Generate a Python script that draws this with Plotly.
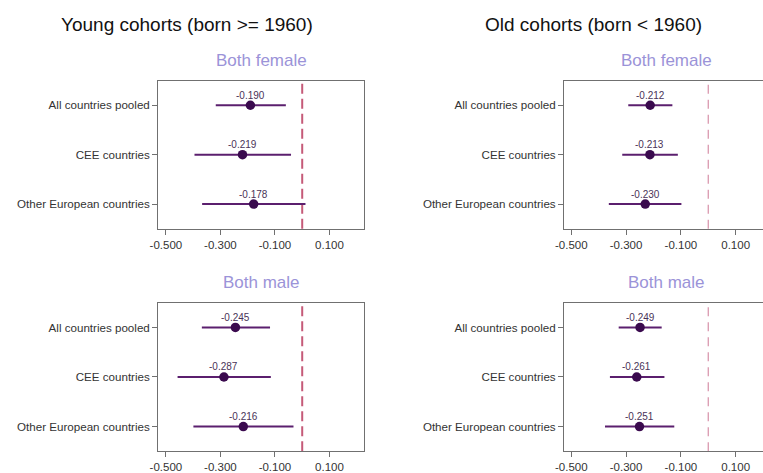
import plotly.graph_objects as go

categories = ["All countries pooled", "CEE countries", "Other European countries"]

young_female_est = [-0.190, -0.219, -0.178]
young_female_lo = [-0.317, -0.395, -0.367]
young_female_hi = [-0.060, -0.041, 0.012]

young_male_est = [-0.245, -0.287, -0.216]
young_male_lo = [-0.368, -0.457, -0.399]
young_male_hi = [-0.118, -0.115, -0.032]

old_female_est = [-0.212, -0.213, -0.230]
old_female_lo = [-0.292, -0.314, -0.363]
old_female_hi = [-0.131, -0.111, -0.098]

old_male_est = [-0.249, -0.261, -0.251]
old_male_lo = [-0.327, -0.359, -0.377]
old_male_hi = [-0.170, -0.160, -0.124]

x_tickvals = [-0.5, -0.3, -0.1, 0.1]
x_ticktext = ["-0.500", "-0.300", "-0.100", "0.100"]
ref_value = 0.0

column_titles = ["Young cohorts (born >= 1960)", "Old cohorts (born < 1960)"]
panel_titles = ["Both female", "Both male"]

W, H = 763, 473
FONT = "Liberation Sans, Arial, sans-serif"
MARK = "#3a0a4e"
CI = "#5b1f6e"
AXC = "#707070"

panels = [
    (young_female_est, young_female_lo, young_female_hi, 1, (151, 359.3), (80.7, 229.3), (-0.528, 0.2268), "left", True),
    (young_male_est, young_male_lo, young_male_hi, 2, (151, 359.3), (303.3, 452.3), (-0.528, 0.2268), "left", True),
    (old_female_est, old_female_lo, old_female_hi, 3, (561.7, 763), (80.7, 229.3), (-0.5264, 0.1999), "right", False),
    (old_male_est, old_male_lo, old_male_hi, 4, (561.7, 763), (303.3, 452.3), (-0.5264, 0.1999), "right", False),
]

fig = go.Figure()
layout = dict(
    width=W, height=H, margin=dict(l=0, r=0, t=0, b=0),
    paper_bgcolor="white", plot_bgcolor="white", showlegend=False,
    font=dict(family=FONT, color="#222222"),
)
shapes = []
annotations = []

for est, lo, hi, i, xd, yd, xr, refstyle, rborder in panels:
    sfx = "" if i == 1 else str(i)
    xa, ya = "x" + sfx, "y" + sfx
    plus = [h - e for h, e in zip(hi, est)]
    minus = [e - l for e, l in zip(est, lo)]
    fig.add_trace(go.Scatter(
        x=est, y=categories, xaxis=xa, yaxis=ya,
        mode="markers",
        marker=dict(color=MARK, size=9.5),
        error_x=dict(type="data", symmetric=False, array=plus, arrayminus=minus,
                     color=CI, thickness=2, width=0),
        hoverinfo="skip",
    ))
    for e, c in zip(est, categories):
        annotations.append(dict(
            text=f"{e:.3f}", x=e, y=c, xref=xa, yref=ya, showarrow=False,
            xanchor="center", yanchor="middle", yshift=10,
            font=dict(size=10, color="#4a3358", family=FONT),
        ))
    layout["xaxis" + sfx] = dict(
        domain=[xd[0] / W, xd[1] / W], anchor=ya, range=list(xr),
        tickvals=x_tickvals, ticktext=x_ticktext, ticks="outside", ticklen=5,
        tickcolor=AXC, showline=True, linecolor=AXC, linewidth=1.2, mirror=True,
        showgrid=False, zeroline=False, tickfont=dict(size=11.5, color="#333333"),
    )
    layout["yaxis" + sfx] = dict(
        domain=[1 - yd[1] / H, 1 - yd[0] / H], anchor=xa, type="category",
        categoryorder="array", categoryarray=categories, range=[2.5, -0.5],
        ticks="outside", ticklen=5, tickcolor=AXC, showline=True, linecolor=AXC,
        linewidth=1.2, mirror=rborder, showgrid=False, zeroline=False,
        tickfont=dict(size=11.6, color="#333333"),
    )
    if refstyle == "left":
        line = dict(color="#c55a78", width=2, dash="10px,5px")
    else:
        line = dict(color="#d690a8", width=1.2, dash="9px,6px")
    shapes.append(dict(type="line", xref=xa, yref=ya + " domain", x0=ref_value, x1=ref_value,
                       y0=0, y1=1, line=line, layer="below"))
    title = panel_titles[0] if i in (1, 3) else panel_titles[1]
    annotations.append(dict(
        text=title, xref="paper", yref="paper",
        x=((xd[0] + (xd[0] + 208.3)) / 2) / W, y=1 - (yd[0] - 20.5) / H,
        xanchor="center", yanchor="middle", showarrow=False,
        font=dict(size=17, color="#9b93d8", family=FONT),
    ))

annotations.append(dict(text=column_titles[0], xref="paper", yref="paper",
                        x=51 / W, y=1 - 25 / H, xanchor="left", yanchor="middle",
                        showarrow=False, font=dict(size=19, color="#111111", family=FONT)))
annotations.append(dict(text=column_titles[1], xref="paper", yref="paper",
                        x=480 / W, y=1 - 25 / H, xanchor="left", yanchor="middle",
                        showarrow=False, font=dict(size=19, color="#111111", family=FONT)))

layout["shapes"] = shapes
layout["annotations"] = annotations
fig.update_layout(**layout)
fig.write_html("out.html")
